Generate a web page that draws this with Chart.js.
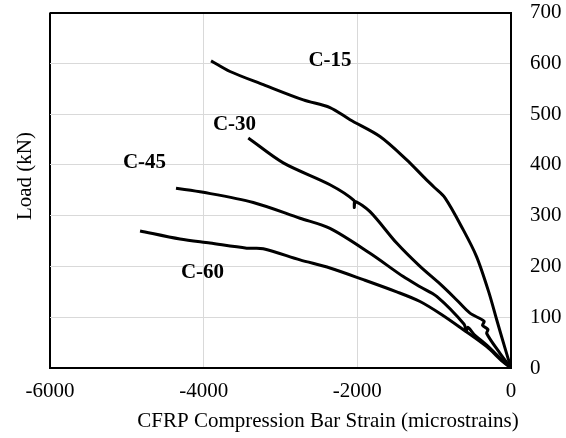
<!DOCTYPE html>
<html>
<head>
<meta charset="utf-8">
<script src="https://cdn.jsdelivr.net/npm/chart.js@4/dist/chart.umd.min.js"></script>
<style>
  html, body { margin: 0; padding: 0; background: #fff; }
  #wrap { width: 566px; height: 438px; }
</style>
</head>
<body>
<div id="wrap"><canvas id="loadStrain"></canvas></div>
<script>
// strain (microstrains) and load (kN)
const strainC15 = [0, -80, -186, -290, -447, -621, -859, -1000, -1141, -1357, -1705, -2095, -2356, -2703, -3223, -3657, -3904];
const loadC15 = [0, 40, 95, 150, 219, 272, 335, 356, 377, 410, 456, 489, 513, 528, 558, 584, 605];

const strainC30 = [0, -143, -316, -300, -370, -350, -534, -707, -920, -1184, -1488, -1835, -2030, -2040, -2045, -2356, -2964, -3419];
const loadC30 = [0, 29, 68, 76, 84, 92, 108, 134, 165, 200, 246, 308, 328, 316, 330, 361, 404, 453];

const strainC45 = [0, -104, -316, -480, -560, -585, -610, -967, -1184, -1402, -1835, -2356, -2746, -3354, -4005, -4360];
const loadC45 = [0, 14, 45, 66, 80, 72, 86, 141, 160, 180, 226, 275, 295, 326, 346, 354];

const strainC60 = [0, -104, -316, -625, -900, -1184, -1488, -1922, -2356, -2746, -3224, -3440, -3918, -4308, -4828];
const loadC60 = [0, 12, 42, 76, 105, 131, 150, 174, 197, 213, 235, 236, 246, 254, 270];

const seriesNames = ["C-15", "C-30", "C-45", "C-60"];
const labelStrain = [-2356, -3599, -4770, -4015];
const labelLoad = [605, 480, 405, 188];

const xTicks = [-6000, -4000, -2000, 0];
const yTicks = [0, 100, 200, 300, 400, 500, 600, 700];

const toPoints = (xs, ys) => xs.map((v, i) => ({ x: v, y: ys[i] }));

const curves = [
  toPoints(strainC15, loadC15),
  toPoints(strainC30, loadC30),
  toPoints(strainC45, loadC45),
  toPoints(strainC60, loadC60),
];

const serif = '"Liberation Serif", "Times New Roman", serif';

// draws the curve labels and both axis titles where the reference has them
const textPlugin = {
  id: "texts",
  afterDraw(chart) {
    const { ctx } = chart;
    const { x, y } = chart.scales;
    ctx.save();
    ctx.fillStyle = "#000";
    ctx.textAlign = "center";
    ctx.textBaseline = "middle";
    ctx.font = "bold 21px " + serif;
    seriesNames.forEach((n, i) => {
      ctx.fillText(n, x.getPixelForValue(labelStrain[i]), y.getPixelForValue(labelLoad[i]));
    });
    ctx.font = "21px " + serif;
    ctx.fillText("CFRP Compression Bar Strain (microstrains)", 328, 421);
    ctx.translate(25, 176);
    ctx.rotate(-Math.PI / 2);
    ctx.fillText("Load (kN)", 0, 0);
    ctx.restore();
  },
};

new Chart(document.getElementById("loadStrain"), {
  type: "scatter",
  data: {
    datasets: curves.map((pts, i) => ({
      label: seriesNames[i],
      data: pts,
      showLine: true,
      borderColor: "#000",
      borderWidth: 3,
      pointRadius: 0,
      tension: 0.3,
      borderJoinStyle: "round",
    })),
  },
  options: {
    responsive: true,
    maintainAspectRatio: false,
    animation: false,
    layout: { padding: { left: 50, top: 0, right: 0, bottom: 0 } },
    plugins: {
      legend: { display: false },
      tooltip: { enabled: false },
    },
    scales: {
      x: {
        type: "linear",
        min: -6000,
        max: 0,
        afterBuildTicks: (s) => { s.ticks = xTicks.map((v) => ({ value: v })); },
        afterFit: (s) => { s.height = 70; },
        ticks: { color: "#000", padding: 11, font: { family: serif, size: 21 }, callback: (v) => String(v) },
        grid: {
          drawTicks: false,
          color: (c) => (c.tick && c.tick.value === -6000 ? "#000" : "#d9d9d9"),
          lineWidth: (c) => (c.tick && c.tick.value === -6000 ? 2 : 1),
        },
        border: { color: "#000", width: 2 },
      },
      y: {
        position: "right",
        min: 0,
        max: 700,
        afterBuildTicks: (s) => { s.ticks = yTicks.map((v) => ({ value: v })); },
        afterFit: (s) => { s.width = 55; },
        ticks: { color: "#000", padding: 0, font: { family: serif, size: 21 }, callback: (v) => String(v) },
        grid: {
          drawTicks: true,
          tickLength: 19,
          tickColor: "rgba(0,0,0,0)",
          color: (c) => (c.tick && c.tick.value === 700 ? "#000" : "#d9d9d9"),
          lineWidth: (c) => (c.tick && c.tick.value === 700 ? 2 : 1),
        },
        border: { color: "#000", width: 2 },
      },
    },
  },
  plugins: [textPlugin],
});
</script>
</body>
</html>
